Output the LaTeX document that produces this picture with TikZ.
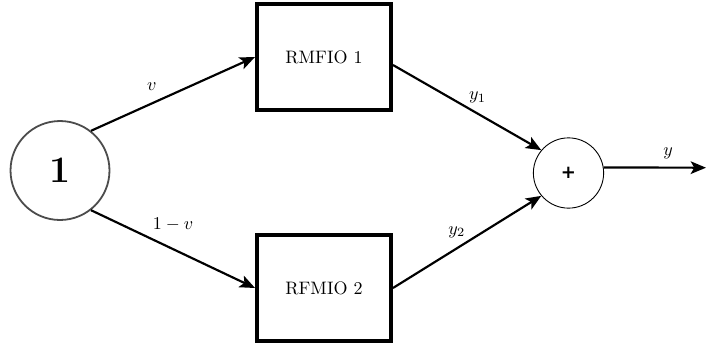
\documentclass[tikz,border=0pt]{standalone}
\usepackage{fontspec}
\newfontfamily\plusfont{DejaVu Sans}
\usepackage{tikz}
\usetikzlibrary{arrows.meta,shapes}
\usepackage{amsmath}

\tikzset{
  block/.style={draw, line width=2pt, minimum width=2.62cm, minimum height=2.06cm},
  source/.style={circle, draw=black!70, line width=1pt, minimum size=1.93cm, inner sep=0pt},
  adder/.style={circle, draw, line width=0.5pt, minimum size=1.37cm, inner sep=0pt},
  flow/.style={-{Stealth[length=8.5pt,width=7pt,inset=2pt]}, very thick}
}

\begin{document}
\begin{tikzpicture}[x=0.0195cm, y=-0.0195cm]

      \useasboundingbox (0,0) rectangle (706,347);

      \node[source] (one) at (60,170.5) {\huge\bfseries 1};
      \node[block] (rmfio1) at (324,57) {RMFIO 1};
      \node[block] (rfmio2) at (324,288) {RFMIO 2};
      \node[adder] (plus) at (568.5,173) {\plusfont\bfseries +};
      \coordinate (out) at (706,167.7);

      \draw[flow] (one.52) -- node[pos=.37, above=3pt] {$v$} (rmfio1.west);
      \draw[flow] (one.-52) -- node[pos=.5, above=6pt] {$1-v$} (rfmio2.west);

      \draw[flow] ([yshift=-0.156cm]rmfio1.east) -- node[pos=.57, above=2pt] {$y_1$} (plus.140);
      \draw[flow] (rfmio2.east) -- node[pos=.43, above=2pt] {$y_2$} (plus.220);

      \draw[flow] (plus.9) -- node[pos=.63, above=1pt] {$y$} (out);

    \end{tikzpicture}
\end{document}
